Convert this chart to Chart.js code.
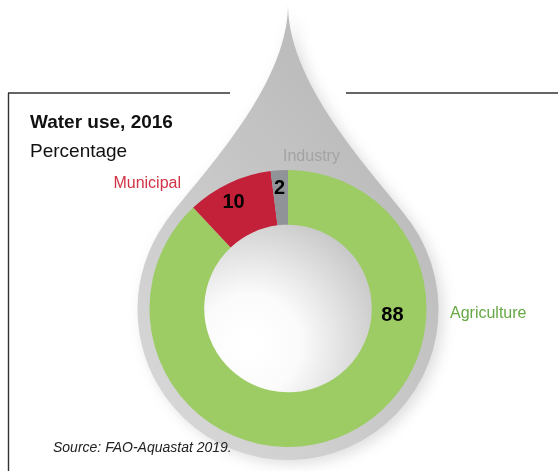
<!DOCTYPE html>
<html>
<head>
<meta charset="utf-8">
<script src="https://cdn.jsdelivr.net/npm/chart.js@4"></script>
<style>
  html, body { margin: 0; padding: 0; background: #fff; }
  #wrap { width: 558px; height: 471px; position: relative; }
</style>
</head>
<body>
<div id="wrap"><canvas id="water-use" width="558" height="471"></canvas></div>
<script>
var categories = ['Agriculture', 'Municipal', 'Industry'];
var shares = [88, 10, 2];
var sliceColors = ['#9ccc63', '#c3213a', '#909398'];
var labelColors = ['#66a844', '#d03345', '#a3a3a3'];

// where each value sits inside its slice: [share of the arc, share of the ring width]
var valueSpots = [[0.295, 0.38], [0.45, 0.66], [0.44, 0.69]];

var dropPlugin = {
    id: 'drop',
    beforeDraw: function(chart) {
        var c = chart.ctx;
        c.save();
        c.strokeStyle = '#333';
        c.lineWidth = 1.4;
        c.beginPath();
        c.moveTo(8, 93); c.lineTo(230, 93);
        c.moveTo(346, 93); c.lineTo(558, 93);
        c.moveTo(8.5, 93); c.lineTo(8.5, 471);
        c.stroke();
        c.restore();
    },
    beforeDatasetsDraw: function(chart) {
        var c = chart.ctx;
        var arc = chart.getDatasetMeta(0).data[0];
        var cx = arc.x, cy = arc.y + 1;
        var R = arc.outerRadius + 12;
        var tipY = cy - 305;
        var a = 55 * Math.PI / 180;
        var tx = R * Math.sin(a), ty = cy - R * Math.cos(a);
        var k = 50;
        c.save();
        var g = c.createLinearGradient(cx - 140, cy + 150, cx + 140, cy - 80);
        g.addColorStop(0, '#dadada');
        g.addColorStop(1, '#bdbdbd');
        c.fillStyle = g;
        c.shadowColor = 'rgba(0,0,0,0.13)';
        c.shadowBlur = 14;
        c.shadowOffsetX = 5;
        c.shadowOffsetY = 4;
        c.beginPath();
        c.moveTo(cx, tipY);
        c.bezierCurveTo(cx, tipY + 85, cx + tx - 0.574 * k, ty - 0.819 * k, cx + tx, ty);
        c.arc(cx, cy, R, -Math.PI / 2 + a, Math.PI * 1.5 - a);
        c.bezierCurveTo(cx - tx + 0.574 * k, ty - 0.819 * k, cx, tipY + 85, cx, tipY);
        c.closePath();
        c.fill();
        c.restore();

        // shaded hole
        c.save();
        var hg = c.createRadialGradient(cx - 38, cy + 35, 8, cx - 38, cy + 35, 150);
        hg.addColorStop(0, '#ffffff');
        hg.addColorStop(0.3, '#fbfbfb');
        hg.addColorStop(1, '#c0c0c0');
        c.fillStyle = hg;
        c.beginPath();
        c.arc(arc.x, arc.y, arc.innerRadius + 1, 0, Math.PI * 2);
        c.fill();
        c.restore();
    },
    afterDraw: function(chart) {
        var c = chart.ctx;
        var meta = chart.getDatasetMeta(0);
        c.save();
        c.fillStyle = '#111';
        c.textAlign = 'left';
        c.textBaseline = 'alphabetic';
        c.font = 'bold 19px "Liberation Sans", Arial, sans-serif';
        c.fillText('Water use, 2016', 30, 128);
        c.font = '19px "Liberation Sans", Arial, sans-serif';
        c.fillText('Percentage', 30, 157);

        c.font = 'italic 14px "Liberation Sans", Arial, sans-serif';
        c.fillStyle = '#222';
        c.fillText('Source: FAO-Aquastat 2019.', 53, 452);

        // category names
        c.font = '16px "Liberation Sans", Arial, sans-serif';
        c.fillStyle = labelColors[0];
        c.fillText(categories[0], 450, 318);
        c.fillStyle = labelColors[2];
        c.fillText(categories[2], 283, 161);
        c.textAlign = 'right';
        c.fillStyle = labelColors[1];
        c.fillText(categories[1], 181, 188);

        // values
        c.font = 'bold 20px "Liberation Sans", Arial, sans-serif';
        c.fillStyle = '#000';
        c.textAlign = 'center';
        c.textBaseline = 'middle';
        meta.data.forEach(function(el, i) {
            var ang = el.startAngle + (el.endAngle - el.startAngle) * valueSpots[i][0];
            var rad = el.innerRadius + (el.outerRadius - el.innerRadius) * valueSpots[i][1];
            c.fillText(String(shares[i]), el.x + rad * Math.cos(ang), el.y + rad * Math.sin(ang) + 1);
        });
        c.restore();
    }
};

var ctx = document.getElementById('water-use').getContext('2d');
var waterChart = new Chart(ctx, {
    type: 'doughnut',
    data: {
        labels: categories,
        datasets: [{
            data: shares,
            backgroundColor: sliceColors,
            borderWidth: 0,
            hoverOffset: 0,
            offset: 0
        }]
    },
    options: {
        responsive: false,
        devicePixelRatio: 1,
        animation: false,
        events: [],
        cutout: '60.5%',
        layout: { padding: { top: 170, bottom: 24, left: 149, right: 131 } },
        plugins: {
            legend: { display: false },
            tooltip: { enabled: false }
        }
    },
    plugins: [dropPlugin]
});
</script>
</body>
</html>
